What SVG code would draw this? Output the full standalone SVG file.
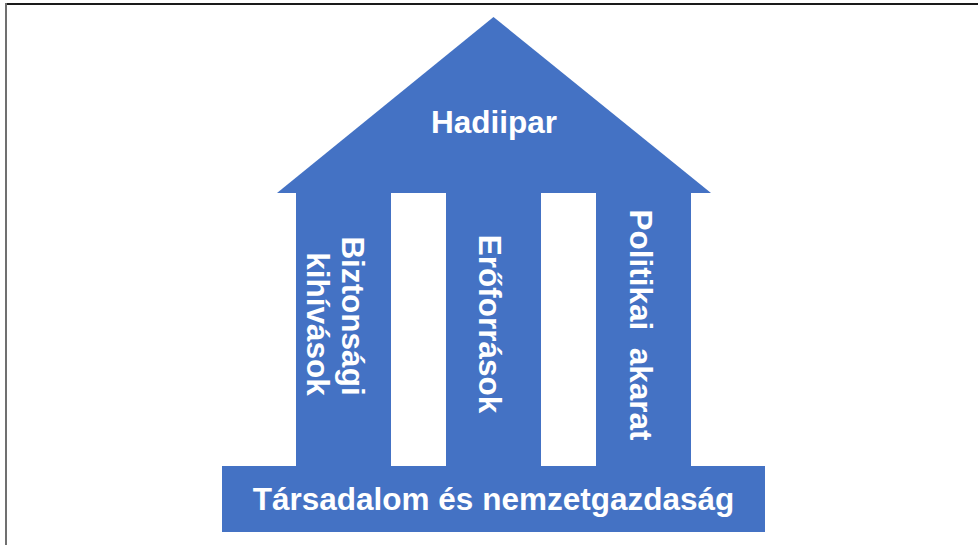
<svg xmlns="http://www.w3.org/2000/svg" width="978" height="545" viewBox="0 0 978 545">
  <style>
    .shape { fill: #4472C4; }
    .lbl { fill: #FFFFFF; font-family: "Liberation Sans", Arial, sans-serif; font-weight: bold; font-size: 31.5px; text-anchor: middle; }
  </style>
  <rect x="0" y="0" width="978" height="545" fill="#FFFFFF"/>
  <g id="frame">
    <line x1="5" y1="4" x2="978" y2="4" stroke="#1a1a1a" stroke-width="2"/>
    <line x1="6" y1="3" x2="6" y2="545" stroke="#707070" stroke-width="2"/>
  </g>
  <g id="roof">
    <polygon class="shape" points="493.5,17 711,193 277,193"/>
    <text class="lbl" x="494" y="133">Hadiipar</text>
  </g>
  <g id="pillar-left">
    <rect class="shape" x="296" y="192" width="95" height="275"/>
    <text class="lbl" transform="translate(342,316) rotate(90)">Biztonsági</text>
    <text class="lbl" transform="translate(307,324) rotate(90)">kihívások</text>
  </g>
  <g id="pillar-middle">
    <rect class="shape" x="446" y="192" width="95" height="275"/>
    <text class="lbl" transform="translate(479,324) rotate(90)">Erőforrások</text>
  </g>
  <g id="pillar-right">
    <rect class="shape" x="596" y="192" width="95" height="275"/>
    <text class="lbl" transform="translate(630,325) rotate(90)" xml:space="preserve">Politikai  akarat</text>
  </g>
  <g id="base">
    <rect class="shape" x="222" y="466" width="543" height="66"/>
    <text class="lbl" x="493.5" y="510">Társadalom és nemzetgazdaság</text>
  </g>
</svg>
